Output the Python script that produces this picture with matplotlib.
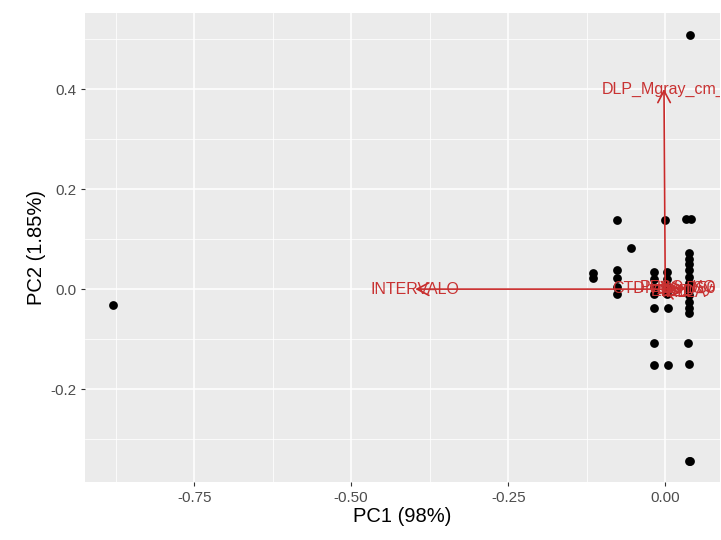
import matplotlib.pyplot as plt
import numpy as np

# scores (PC1, PC2)
pc1 = [-0.879, 0.040,
       -0.077, 0.000, 0.033, 0.041,
       -0.054,
       0.038, 0.038, 0.038, 0.038, 0.038, 0.038, 0.038, 0.038, 0.038,
       -0.115, -0.115,
       -0.077, -0.077, -0.077, -0.077,
       -0.018, -0.018, -0.018, -0.018, -0.018,
       0.003, 0.003, 0.003, 0.003, 0.005,
       0.038, 0.038,
       -0.018, 0.037,
       -0.018, 0.005, 0.038,
       0.038, 0.040]
pc2 = [-0.032, 0.508,
       0.138, 0.138, 0.140, 0.140,
       0.082,
       0.072, 0.060, 0.050, 0.038, 0.025, 0.012, 0.000, -0.012, -0.025,
       0.032, 0.022,
       0.038, 0.022, 0.005, -0.010,
       0.034, 0.020, 0.005, -0.010, -0.038,
       0.034, 0.020, 0.005, -0.010, -0.038,
       -0.038, -0.048,
       -0.108, -0.108,
       -0.152, -0.152, -0.150,
       -0.344, -0.344]

# loadings
load_names = ["INTERVALO", "DLP_Mgray_cm_", "CTDIvol_mGy", "EDAD", "PESO_KG", "TALLA", "KV_D50"]
load_x = [-0.398, -0.002, -0.004, 0.012, 0.020, 0.028, 0.034]
load_y = [0.000, 0.400, 0.002, -0.004, 0.003, -0.006, 0.002]

red_line = "#c82a2a"
red_text = "#c83232"

plt.rcParams['font.family'] = ['Liberation Sans', 'DejaVu Sans']
fig = plt.figure(figsize=(7.21, 5.40), dpi=100)
ax = fig.add_axes([0.118, 0.107, 0.881, 0.869])
ax.set_facecolor("#EBEBEB")
for s in ax.spines.values():
    s.set_visible(False)

ax.set_xticks([-0.75, -0.50, -0.25, 0.00])
ax.set_xticklabels(["-0.75", "-0.50", "-0.25", "0.00"])
ax.set_yticks([-0.2, 0.0, 0.2, 0.4])
ax.set_yticklabels(["-0.2", "0.0", "0.2", "0.4"])
ax.set_xticks([-0.875, -0.625, -0.375, -0.125], minor=True)
ax.set_yticks([-0.3, -0.1, 0.1, 0.3, 0.5], minor=True)
ax.grid(which="major", color="white", lw=1.1)
ax.grid(which="minor", color="white", lw=0.55)
ax.set_axisbelow(True)
ax.tick_params(which="major", length=3, color="#333333", labelcolor="#4D4D4D", labelsize=11, pad=3)
ax.tick_params(which="minor", length=0)

ax.scatter(pc1, pc2, s=40, color="black", zorder=2, linewidths=0)

for nm, lx, ly in zip(load_names, load_x, load_y):
    ax.annotate("", xy=(lx, ly), xytext=(0, 0),
                arrowprops=dict(arrowstyle="->,head_length=0.85,head_width=0.45",
                                color=red_line, lw=1.2, shrinkA=0, shrinkB=0),
                zorder=3)
    ax.text(lx, ly, nm, color=red_text, fontsize=11.5, ha="center", va="center",
            clip_on=True, zorder=4)

ax.set_xlim(-0.9236, 0.0876)
ax.set_ylim(-0.386, 0.552)
ax.set_xlabel("PC1 (98%)", fontsize=14.5, labelpad=2)
ax.set_ylabel("PC2 (1.85%)", fontsize=14.5, labelpad=3)

fig.savefig("out.png", dpi=100, facecolor="white")
